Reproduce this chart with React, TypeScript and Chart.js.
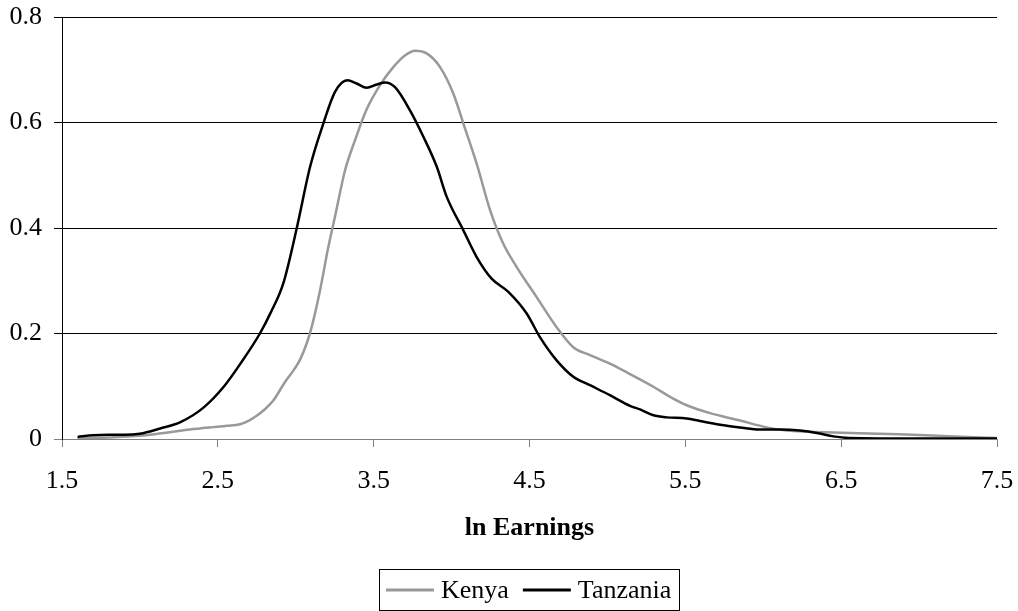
import React, { useEffect, useRef } from 'react';
import { Chart, registerables } from 'chart.js';

Chart.register(...registerables);

const FONT = '"Liberation Serif", "Times New Roman", Times, serif';

const seriesNames = ['Kenya', 'Tanzania'];
const seriesColors = ['#999999', '#000000'];
const xTitle = 'ln Earnings';

const kenyaX = [1.6, 1.8, 1.99, 2.19, 2.32, 2.45, 2.56, 2.642, 2.7, 2.749, 2.8, 2.856, 2.931, 2.99, 3.027, 3.07, 3.102, 3.156, 3.209, 3.258, 3.316, 3.38, 3.455, 3.541, 3.626, 3.701, 3.765, 3.84, 3.926, 4.011, 4.08, 4.161, 4.247, 4.332, 4.418, 4.546, 4.674, 4.781, 4.888, 5.016, 5.145, 5.295, 5.402, 5.509, 5.659, 5.851, 6.022, 6.15, 6.5, 6.87, 7.19, 7.5];
const kenyaY = [0.001, 0.003, 0.006, 0.013, 0.018, 0.022, 0.025, 0.028, 0.035, 0.044, 0.056, 0.073, 0.108, 0.132, 0.15, 0.181, 0.212, 0.282, 0.364, 0.43, 0.509, 0.566, 0.625, 0.671, 0.705, 0.727, 0.736, 0.731, 0.705, 0.655, 0.594, 0.522, 0.434, 0.37, 0.326, 0.269, 0.212, 0.174, 0.159, 0.143, 0.123, 0.099, 0.08, 0.064, 0.049, 0.035, 0.022, 0.016, 0.012, 0.009, 0.005, 0.002];

const tanzaniaX = [1.6, 1.7, 1.8, 1.9, 2.0, 2.13, 2.26, 2.41, 2.535, 2.65, 2.77, 2.84, 2.92, 3.006, 3.092, 3.177, 3.252, 3.331, 3.391, 3.455, 3.52, 3.573, 3.637, 3.733, 3.819, 3.905, 3.969, 4.075, 4.161, 4.257, 4.364, 4.482, 4.567, 4.674, 4.781, 4.888, 5.016, 5.145, 5.209, 5.295, 5.38, 5.509, 5.594, 5.723, 5.851, 5.979, 6.108, 6.236, 6.353, 6.45, 6.55, 7.0, 7.5];
const tanzaniaY = [0.004, 0.007, 0.008, 0.008, 0.01, 0.02, 0.032, 0.06, 0.098, 0.145, 0.2, 0.24, 0.295, 0.399, 0.516, 0.598, 0.658, 0.68, 0.674, 0.666, 0.672, 0.676, 0.667, 0.623, 0.573, 0.516, 0.459, 0.396, 0.345, 0.304, 0.279, 0.238, 0.193, 0.149, 0.118, 0.102, 0.083, 0.063, 0.056, 0.045, 0.041, 0.039, 0.034, 0.027, 0.022, 0.018, 0.018, 0.016, 0.011, 0.005, 0.002, 0.001, 0.001];

const xTicks = [1.5, 2.5, 3.5, 4.5, 5.5, 6.5, 7.5];
const xTickLabels = ['1.5', '2.5', '3.5', '4.5', '5.5', '6.5', '7.5'];
const yTicks = [0, 0.2, 0.4, 0.6, 0.8];
const yTickLabels = ['0', '0.2', '0.4', '0.6', '0.8'];

const toPoints = (xs: number[], ys: number[]) => xs.map((x, i) => ({ x, y: ys[i] }));

const boxLegend = {
  id: 'boxLegend',
  afterDraw(chart: any) {
    const ctx = chart.ctx;
    const ds = chart.data.datasets;
    ctx.save();
    ctx.font = `26px ${FONT}`;
    const sample = 48, gapS = 7, gapItem = 14, padL = 7, padR = 8;
    const widths = ds.map((d: any) => ctx.measureText(d.label).width);
    let total = padL + padR;
    widths.forEach((w: number, i: number) => {
      total += sample + gapS + w + (i < widths.length - 1 ? gapItem : 0);
    });
    const cx = (chart.chartArea.left + chart.chartArea.right) / 2;
    const x0 = Math.round(cx - total / 2);
    const top = 569.5;
    const h = 41;
    ctx.strokeStyle = '#000';
    ctx.lineWidth = 1;
    ctx.strokeRect(x0 + 0.5, top, Math.round(total), h);
    let x = x0 + padL;
    const cy = top + h / 2;
    ds.forEach((d: any, i: number) => {
      ctx.strokeStyle = d.borderColor;
      ctx.lineWidth = 3;
      ctx.beginPath();
      ctx.moveTo(x, cy);
      ctx.lineTo(x + sample, cy);
      ctx.stroke();
      x += sample + gapS;
      ctx.fillStyle = '#000';
      ctx.textBaseline = 'middle';
      ctx.textAlign = 'left';
      ctx.fillText(d.label, x, cy + 1);
      x += widths[i] + gapItem;
    });
    ctx.restore();
  },
};

export default function App() {
  const ref = useRef<HTMLCanvasElement | null>(null);

  useEffect(() => {
    if (!ref.current) return;
    Chart.defaults.font.family = FONT;
    const chart = new Chart(ref.current, {
      type: 'scatter',
      data: {
        datasets: [
          {
            label: seriesNames[0],
            data: toPoints(kenyaX, kenyaY),
            borderColor: seriesColors[0],
            backgroundColor: seriesColors[0],
            borderWidth: 2.5,
            showLine: true,
            pointRadius: 0,
            cubicInterpolationMode: 'monotone',
            order: 2,
          },
          {
            label: seriesNames[1],
            data: toPoints(tanzaniaX, tanzaniaY),
            borderColor: seriesColors[1],
            backgroundColor: seriesColors[1],
            borderWidth: 2.5,
            showLine: true,
            pointRadius: 0,
            cubicInterpolationMode: 'monotone',
            order: 1,
          },
        ],
      },
      options: {
        animation: false,
        responsive: false,
        devicePixelRatio: 1,
        events: [],
        layout: { padding: { top: 17, right: 21, left: 0, bottom: 0 } },
        plugins: {
          legend: { display: false },
          tooltip: { enabled: false },
        },
        scales: {
          x: {
            type: 'linear',
            position: 'bottom',
            min: 1.5,
            max: 7.5,
            afterBuildTicks: (s: any) => {
              s.ticks = xTicks.map((v) => ({ value: v }));
            },
            afterFit: (s: any) => {
              s.height = 172;
              s.paddingLeft = 0;
              s.paddingRight = 0;
            },
            grid: {
              drawOnChartArea: false,
              drawTicks: true,
              tickLength: 8,
              color: '#808080',
            },
            border: { display: true, color: '#808080', width: 1 },
            ticks: {
              autoSkip: false,
              maxRotation: 0,
              padding: 19,
              color: '#000',
              font: { size: 26, family: FONT },
              callback: (_v: any, i: number) => xTickLabels[i],
            },
            title: {
              display: true,
              text: xTitle,
              color: '#000',
              font: { size: 26, weight: 'bold', family: FONT },
              padding: { top: 0, bottom: 67 },
            },
          },
          y: {
            type: 'linear',
            min: 0,
            max: 0.8,
            afterBuildTicks: (s: any) => {
              s.ticks = yTicks.map((v) => ({ value: v }));
            },
            afterFit: (s: any) => {
              s.width = 62;
              s.paddingTop = 0;
              s.paddingBottom = 0;
            },
            grid: {
              drawTicks: true,
              tickLength: 8,
              color: (c: any) => (c.tick && c.tick.value === 0 ? '#808080' : '#000000'),
              lineWidth: 1,
            },
            border: { display: true, color: '#000', width: 1 },
            ticks: {
              padding: 12,
              color: '#000',
              font: { size: 26, family: FONT },
              callback: (_v: any, i: number) => yTickLabels[i],
            },
          },
        },
      } as any,
      plugins: [boxLegend],
    });
    return () => chart.destroy();
  }, []);

  return (
    <div style={{ position: 'fixed', left: 0, top: 0, width: 1018, height: 611, background: '#fff' }}>
      <canvas ref={ref} width={1018} height={611} style={{ display: 'block' }} />
    </div>
  );
}
